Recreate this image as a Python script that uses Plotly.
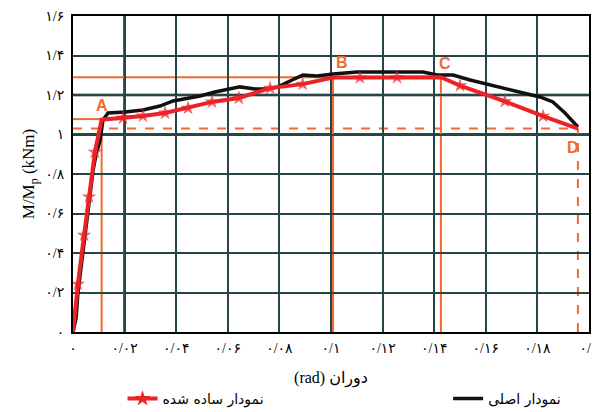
import plotly.graph_objects as go

# ---- data ----
# simplified curve (red): vertices O, A, B, C, D plus star points
red_x = [0.0, 0.0019, 0.0043, 0.0062, 0.0085, 0.0111, 0.0194, 0.0271, 0.0357, 0.0446,
         0.0539, 0.0643, 0.0764, 0.0890, 0.1008, 0.1112, 0.1256, 0.1426, 0.1500, 0.1674,
         0.1822, 0.1957]
red_y = [0.0, 0.243, 0.491, 0.684, 0.911, 1.075, 1.084, 1.094, 1.109, 1.134,
         1.165, 1.185, 1.235, 1.255, 1.288, 1.288, 1.289, 1.290, 1.248, 1.168,
         1.093, 1.030]
red_star = [0, 1, 1, 1, 1, 0, 1, 1, 1, 1,
            1, 1, 1, 1, 0, 1, 1, 0, 1, 1,
            1, 0]

# original (test) curve (black)
blk_x = [0.0, 0.0012, 0.0019, 0.0035, 0.0054, 0.0066, 0.0078, 0.0089, 0.0105, 0.0116,
         0.0136, 0.0202, 0.0271, 0.0337, 0.0388, 0.0492, 0.0550, 0.0647, 0.0705, 0.0752,
         0.0795, 0.0849, 0.0891, 0.0946, 0.1008, 0.1101, 0.1163, 0.1267, 0.1357, 0.1411,
         0.1473, 0.1539, 0.1655, 0.1733, 0.1810, 0.1860, 0.1907, 0.1957]
blk_y = [0.0, 0.071, 0.198, 0.365, 0.592, 0.719, 0.820, 0.896, 0.972, 1.073,
         1.109, 1.114, 1.124, 1.144, 1.170, 1.195, 1.215, 1.241, 1.230, 1.230,
         1.241, 1.276, 1.301, 1.296, 1.306, 1.316, 1.316, 1.316, 1.316, 1.301,
         1.301, 1.276, 1.241, 1.215, 1.190, 1.165, 1.109, 1.038]

# key points labels
pt_names = ["A", "B", "C", "D"]
pt_x = [0.0111, 0.1008, 0.1426, 0.1957]
pt_y = [1.075, 1.288, 1.290, 1.030]
pt_dx = [0, 9, 4, -5]
pt_dy = [14, 15, 14, -19]

# orange reference lines: (x0, x1, y0, y1, dash)
ref_lines = [
    (0.0, 0.1426, 1.290, 1.290, "solid"),
    (0.0, 0.0111, 1.078, 1.078, "solid"),
    (0.0, 0.1957, 1.030, 1.030, "dash"),
    (0.0111, 0.0111, 0.0, 1.078, "solid"),
    (0.1008, 0.1008, 0.0, 1.290, "solid"),
    (0.1426, 0.1426, 0.0, 1.290, "solid"),
    (0.1957, 0.1957, 0.0, 1.030, "dash"),
]
# heavy black grid lines of the graph paper
heavy_h = [1.0, 1.2]
heavy_v = [0.02]

x_ticks = [0, 0.02, 0.04, 0.06, 0.08, 0.10, 0.12, 0.14, 0.16, 0.18, 0.20]
x_text = ["۰", "۰/۰۲", "۰/۰۴", "۰/۰۶", "۰/۰۸", "۰/۱", "۰/۱۲", "۰/۱۴", "۰/۱۶", "۰/۱۸", "۰/۲"]
y_ticks = [0, 0.2, 0.4, 0.6, 0.8, 1.0, 1.2, 1.4, 1.6]
y_text = ["۰", "۰/۲", "۰/۴", "۰/۶", "۰/۸", "۱", "۱/۲", "۱/۴", "۱/۶"]

RED = "#ec2227"
ORANGE = "#f26a30"
GRID = "#264549"
FONT = "Liberation Serif, DejaVu Sans, serif"

fig = go.Figure()

# black original curve
fig.add_trace(go.Scatter(x=blk_x, y=blk_y, mode="lines",
                         line=dict(color="#111111", width=3.5),
                         name="نمودار اصلی", legend="legend2"))

# red simplified curve
fig.add_trace(go.Scatter(x=red_x, y=red_y, mode="lines+markers",
                         line=dict(color=RED, width=4),
                         marker=dict(symbol="star", color=RED,
                                     size=[11 if s else 0 for s in red_star],
                                     line=dict(width=0)),
                         showlegend=False))
# legend entry for red curve
fig.add_trace(go.Scatter(x=[None], y=[None], mode="lines+markers",
                         line=dict(color=RED, width=4),
                         marker=dict(symbol="star", color=RED, size=12),
                         name="نمودار ساده شده", legend="legend"))

shapes = []
for y in heavy_h:
    shapes.append(dict(type="line", xref="x", yref="y", x0=0, x1=0.2, y0=y, y1=y,
                       line=dict(color="#000000", width=2.5), layer="below"))
for x in heavy_v:
    shapes.append(dict(type="line", xref="x", yref="y", x0=x, x1=x, y0=0, y1=1.6,
                       line=dict(color="#000000", width=2.5), layer="below"))
for (x0, x1, y0, y1, d) in ref_lines:
    shapes.append(dict(type="line", xref="x", yref="y", x0=x0, x1=x1, y0=y0, y1=y1,
                       line=dict(color=ORANGE, width=2, dash=d), layer="below"))

annotations = []
for n, x, y, dx, dy in zip(pt_names, pt_x, pt_y, pt_dx, pt_dy):
    annotations.append(dict(x=x, y=y, xref="x", yref="y", text="<b>%s</b>" % n,
                            showarrow=False, xshift=dx, yshift=dy,
                            font=dict(family="Liberation Sans, Arial", size=16, color=ORANGE)))

fig.update_layout(
    width=591, height=404,
    margin=dict(l=65, r=10, t=8, b=80, autoexpand=False),
    paper_bgcolor="white", plot_bgcolor="white",
    shapes=shapes, annotations=annotations,
    font=dict(family=FONT, color="#000000"),
    xaxis=dict(range=[0, 0.2], tickvals=x_ticks, ticktext=x_text, automargin=False,
               showgrid=True, gridcolor=GRID, gridwidth=1.6, zeroline=False,
               showline=True, linecolor="#000000", linewidth=2, mirror=True,
               ticks="outside", ticklen=2, tickcolor="rgba(0,0,0,0)",
               tickfont=dict(family=FONT, size=14),
               title=dict(text="(rad) دوران", font=dict(family=FONT, size=16), standoff=17)),
    yaxis=dict(range=[0, 1.6], tickvals=y_ticks, ticktext=y_text, automargin=False,
               showgrid=True, gridcolor=GRID, gridwidth=1.6, zeroline=False,
               showline=True, linecolor="#000000", linewidth=2, mirror=True,
               ticks="outside", ticklen=4, tickcolor="rgba(0,0,0,0)",
               tickfont=dict(family=FONT, size=14),
               title=dict(text="M/M<sub>p</sub> (kNm)", font=dict(family=FONT, size=17),
                          standoff=6)),
    legend=dict(x=0.096, y=-0.212, xanchor="left", yanchor="middle",
                orientation="h", bgcolor="rgba(0,0,0,0)",
                font=dict(family="DejaVu Sans", size=14)),
    legend2=dict(x=0.727, y=-0.212, xanchor="left", yanchor="middle",
                 orientation="h", bgcolor="rgba(0,0,0,0)",
                 font=dict(family="DejaVu Sans", size=14)),
)

fig.write_html("out.html")
